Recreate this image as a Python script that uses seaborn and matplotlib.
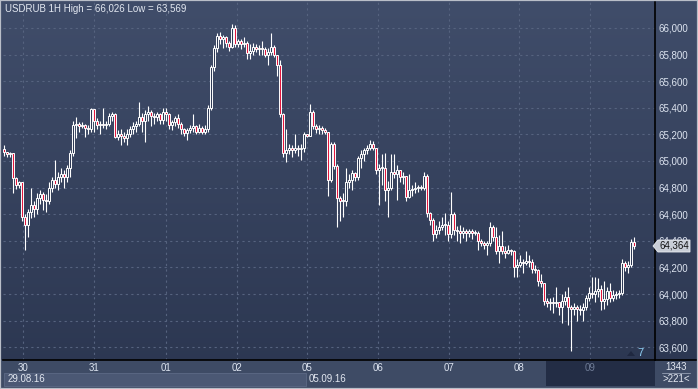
import numpy as np
import pandas as pd
import matplotlib
matplotlib.use('Agg')
import matplotlib.pyplot as plt
from matplotlib.patches import Rectangle, Polygon
from matplotlib.lines import Line2D
from matplotlib.colors import LinearSegmentedColormap
import seaborn as sns

# hourly candles (open = previous close)
first_open = 65.09
closes = [65.07, 65.05, 65.06, 64.87, 64.82, 64.84, 64.58, 64.52, 64.62, 64.67, 64.64,
          64.72, 64.75, 64.71, 64.70, 64.80, 64.86, 64.83, 64.88, 64.90, 64.88,
          64.95, 65.06, 65.27, 65.28, 65.26, 65.27, 65.25, 65.24, 65.39, 65.30,
          65.27, 65.28, 65.27, 65.28, 65.34, 65.35, 65.18, 65.20, 65.19, 65.17,
          65.20, 65.24, 65.26, 65.28, 65.33, 65.30, 65.35, 65.37, 65.34, 65.33,
          65.35, 65.31, 65.37, 65.35, 65.27, 65.29, 65.32, 65.28, 65.24, 65.21,
          65.23, 65.25, 65.26, 65.22, 65.25, 65.22, 65.24, 65.40, 65.71, 65.85,
          65.94, 65.92, 65.93, 65.89, 65.86, 66.00, 65.88, 65.90, 65.88, 65.89,
          65.81, 65.83, 65.86, 65.84, 65.85, 65.84, 65.80, 65.82, 65.86, 65.80,
          65.72, 65.35, 65.06, 65.08, 65.10, 65.08, 65.10, 65.09, 65.10, 65.20,
          65.19, 65.37, 65.26, 65.24, 65.25, 65.23, 65.22, 64.86, 65.13, 64.96,
          64.72, 64.70, 64.70, 64.84, 64.86, 64.91, 64.88, 65.02, 65.05, 65.08,
          65.10, 65.13, 65.10, 64.93, 64.95, 64.95, 64.78, 64.80, 64.92, 64.90,
          64.93, 64.88, 64.89, 64.73, 64.78, 64.79, 64.80, 64.80, 64.80, 64.89,
          64.61, 64.56, 64.45, 64.48, 64.50, 64.52, 64.52, 64.45, 64.60, 64.48,
          64.47, 64.46, 64.47, 64.46, 64.47, 64.46, 64.46, 64.40, 64.38, 64.37,
          64.38, 64.50, 64.43, 64.32, 64.36, 64.32, 64.31, 64.33, 64.32, 64.20,
          64.22, 64.24, 64.23, 64.25, 64.24, 64.19, 64.18, 64.10, 64.08, 63.95,
          63.93, 63.94, 63.93, 63.94, 63.90, 63.95, 63.98, 63.90, 63.89, 63.90,
          63.89, 63.88, 63.90, 63.97, 64.01, 64.00, 64.02, 64.04, 63.95, 63.96,
          64.02, 63.97, 63.99, 64.00, 64.01, 64.23, 64.20, 64.22, 64.39, 64.364]
highs = [65.12, 65.07, 65.07, 65.06, 64.88, 64.85, 64.84, 64.60, 64.64, 64.80, 64.70,
         64.76, 64.78, 64.77, 64.75, 64.84, 64.88, 65.01, 64.92, 64.95, 64.93,
         64.97, 65.08, 65.30, 65.33, 65.29, 65.29, 65.28, 65.27, 65.40, 65.39,
         65.32, 65.30, 65.40, 65.30, 65.36, 65.37, 65.36, 65.23, 65.24, 65.22,
         65.24, 65.26, 65.29, 65.30, 65.44, 65.36, 65.38, 65.41, 65.38, 65.36,
         65.37, 65.36, 65.40, 65.40, 65.36, 65.31, 65.34, 65.35, 65.29, 65.25,
         65.25, 65.27, 65.35, 65.27, 65.28, 65.26, 65.27, 65.42, 65.72, 65.87,
         65.96, 65.97, 65.95, 65.94, 65.90, 66.026, 66.02, 65.92, 65.92, 65.93,
         65.90, 65.88, 65.89, 65.88, 65.87, 65.90, 65.86, 65.85, 65.96, 65.87,
         65.80, 65.76, 65.36, 65.24, 65.13, 65.12, 65.20, 65.12, 65.13, 65.22,
         65.20, 65.43, 65.38, 65.28, 65.27, 65.26, 65.25, 65.22, 65.14, 65.14,
         64.98, 64.74, 64.76, 64.95, 64.90, 64.93, 64.92, 65.04, 65.08, 65.10,
         65.12, 65.16, 65.15, 65.10, 64.98, 65.05, 65.06, 64.85, 65.05, 65.05,
         64.97, 64.93, 64.92, 64.89, 64.90, 64.82, 64.84, 64.82, 64.82, 64.92,
         64.90, 64.62, 64.57, 64.52, 64.55, 64.58, 64.61, 64.55, 64.77, 64.62,
         64.51, 64.52, 64.50, 64.49, 64.49, 64.49, 64.48, 64.47, 64.41, 64.40,
         64.40, 64.54, 64.52, 64.50, 64.44, 64.47, 64.36, 64.37, 64.34, 64.33,
         64.26, 64.29, 64.26, 64.32, 64.29, 64.26, 64.22, 64.19, 64.15, 64.08,
         63.97, 63.97, 63.98, 64.05, 63.93, 64.00, 64.02, 64.05, 63.92, 63.93,
         63.92, 63.92, 63.93, 63.99, 64.05, 64.13, 64.13, 64.12, 64.07, 64.10,
         64.05, 64.08, 64.03, 64.02, 64.03, 64.26, 64.25, 64.25, 64.41, 64.43]
lows = [65.04, 65.03, 65.03, 64.76, 64.79, 64.80, 64.55, 64.33, 64.43, 64.57, 64.58,
        64.60, 64.68, 64.63, 64.62, 64.68, 64.77, 64.80, 64.78, 64.84, 64.80,
        64.84, 64.88, 65.04, 65.17, 65.22, 65.25, 65.18, 65.20, 65.22, 65.22,
        65.24, 65.20, 65.25, 65.24, 65.26, 65.30, 65.17, 65.16, 65.12, 65.14,
        65.12, 65.18, 65.20, 65.22, 65.26, 65.22, 65.14, 65.30, 65.26, 65.28,
        65.30, 65.28, 65.28, 65.30, 65.24, 65.23, 65.26, 65.25, 65.20, 65.19,
        65.16, 65.21, 65.22, 65.20, 65.21, 65.20, 65.20, 65.22, 65.38, 65.68,
        65.82, 65.88, 65.85, 65.86, 65.83, 65.85, 65.86, 65.86, 65.84, 65.86,
        65.77, 65.77, 65.80, 65.82, 65.80, 65.80, 65.78, 65.72, 65.80, 65.78,
        65.64, 65.33, 65.03, 64.99, 65.05, 65.03, 65.06, 65.04, 65.01, 65.07,
        65.18, 65.19, 65.24, 65.21, 65.20, 65.20, 65.20, 64.74, 64.84, 64.94,
        64.50, 64.55, 64.58, 64.66, 64.80, 64.78, 64.85, 64.86, 64.95, 65.00,
        65.05, 65.08, 65.08, 64.90, 64.67, 64.82, 64.70, 64.58, 64.78, 64.87,
        64.71, 64.84, 64.83, 64.70, 64.72, 64.74, 64.76, 64.77, 64.78, 64.78,
        64.58, 64.52, 64.40, 64.42, 64.45, 64.48, 64.44, 64.40, 64.42, 64.44,
        64.40, 64.38, 64.42, 64.40, 64.43, 64.41, 64.44, 64.33, 64.36, 64.34,
        64.29, 64.36, 64.40, 64.30, 64.23, 64.30, 64.27, 64.30, 64.29, 64.13,
        64.13, 64.20, 64.16, 64.22, 64.20, 64.16, 64.16, 64.06, 64.05, 63.92,
        63.90, 63.88, 63.86, 63.90, 63.84, 63.78, 63.92, 63.77, 63.569, 63.84,
        63.80, 63.84, 63.80, 63.88, 63.95, 63.97, 63.94, 63.98, 63.88, 63.89,
        63.92, 63.94, 63.95, 63.96, 63.97, 63.99, 64.17, 64.16, 64.20, 64.34]

day_pos = [6.3, 30, 54, 77.7, 101, 124.7, 148.3, 171.7, 195.3]
day_labels = ['30', '31', '01', '02', '05', '06', '07', '08', '09']
price_ticks = [63.6, 63.8, 64.0, 64.2, 64.4, 64.6, 64.8, 65.0, 65.2, 65.4, 65.6, 65.8, 66.0]
title = 'USDRUB 1H High = 66,026 Low = 63,569'
last_price = 64.364

df = pd.DataFrame({'close': closes, 'high': highs, 'low': lows})
df['open'] = df['close'].shift(1).fillna(first_open)
df['bar'] = np.arange(len(df))
df['high'] = df[['high', 'open', 'close']].max(axis=1)
df['low'] = df[['low', 'open', 'close']].min(axis=1)

sns.set_style('dark')
plt.rcParams['font.family'] = ['Liberation Sans', 'DejaVu Sans']

W, H = 698, 389
fig = plt.figure(figsize=(W / 100, H / 100), dpi=100)
fig.patch.set_facecolor('#35425d')


def fx(x):
    return x / W


def fy(y):
    return 1 - y / H


def rect(x0, y0, x1, y1, fc, ec='none', lw=0, z=1):
    fig.add_artist(Rectangle((fx(x0), fy(y1)), (x1 - x0) / W, (y1 - y0) / H,
                             transform=fig.transFigure, fc=fc, ec=ec, lw=lw, zorder=z))


def txt(x, y, s, **kw):
    fig.text(fx(x), fy(y), s, **kw)


# background gradient
bg = fig.add_axes([0, 0, 1, 1], zorder=-5)
cmap = LinearSegmentedColormap.from_list('bg', ['#404d6a', '#2b3650'])
bg.imshow(np.linspace(0, 1, 256).reshape(-1, 1), aspect='auto', cmap=cmap,
          extent=[0, 1, 0, 1])
bg.axis('off')

# bottom time strip
rect(0, 360, W, H, '#3e4b65', z=0)
rect(4, 373, 306, 386, '#4b5874', ec='#5d6a86', lw=0.6, z=0)
rect(546, 361, 655, 386, '#232d45', z=0)

ax = fig.add_axes([fx(3), fy(360), fx(652), 358 / H], zorder=2)
ax.set_facecolor('none')

# candles
up = df['close'] >= df['open']
ax.vlines(df['bar'], df['low'], df['high'], color='white', lw=0.8, zorder=2)
ax.bar(df['bar'], np.maximum((df['close'] - df['open']).abs(), 0.004),
       bottom=df[['open', 'close']].min(axis=1), width=0.72,
       color=np.where(up, '#2f3a56', '#e3173e'), edgecolor='white',
       linewidth=0.7, zorder=3)

ax.set_xlim(-0.33, 217)
ax.set_ylim(63.504, 66.195)
ax.set_yticks(price_ticks)
ax.set_yticklabels([f'{v:.3f}'.replace('.', ',') for v in price_ticks])
ax.yaxis.tick_right()
ax.set_xticks(day_pos)
ax.set_xticklabels(day_labels)
ax.grid(True, color='#56637f', ls=(0, (2, 3)), lw=0.8)
ax.tick_params(length=0, labelsize=7, colors='#dde4f0')
ax.tick_params(axis='y', pad=2.5)
ax.tick_params(axis='x', pad=2.5)
ax.get_xticklabels()[-1].set_color('#6f7c96')
for s in ['top', 'left']:
    ax.spines[s].set_visible(False)
ax.spines['right'].set_color('black')
ax.spines['bottom'].set_color('black')
ax.spines['right'].set_linewidth(1.2)
ax.spines['bottom'].set_linewidth(1.2)

fig.add_artist(Line2D([fx(655), 1], [fy(360), fy(360)], color='black', lw=1.2,
                      transform=fig.transFigure, zorder=3))

# title
txt(5, 9, title, color='#e3e8f1', fontsize=7, va='center', ha='left')

# current price marker (covers the 64,400 label as in the original)
fig.add_artist(Polygon([(fx(653), fy(246)), (fx(658), fy(240)), (fx(690), fy(240)),
                        (fx(690), fy(252)), (fx(658), fy(252))],
                       closed=True, transform=fig.transFigure, fc='#c9ced7',
                       ec='#e9ecf1', lw=0.6, zorder=5))
txt(660, 246, f'{last_price:.3f}'.replace('.', ','), color='#111111', fontsize=7,
    va='center', ha='left', zorder=6)

# bottom-right counters
txt(676, 367, '1343', color='#e3e8f1', fontsize=7, va='center', ha='center')
fig.add_artist(Line2D([fx(662), fx(690)], [fy(373), fy(373)], color='#8a95aa', lw=0.7,
                      transform=fig.transFigure))
txt(676, 379, '>221<', color='#e3e8f1', fontsize=7, va='center', ha='center')

# dates
txt(8, 379, '29.08.16', color='#e3e8f1', fontsize=7, va='center', ha='left')
txt(309, 379, '05.09.16', color='#e3e8f1', fontsize=7, va='center', ha='left')

# scroll marker
fig.add_artist(Polygon([(fx(627), fy(356)), (fx(631), fy(351)), (fx(635), fy(356))],
                       closed=True, transform=fig.transFigure, fc='#1f2840',
                       ec='none', zorder=5))
txt(640, 353, '7', color='#8fd0f5', fontsize=8, va='center', ha='center', zorder=6)

# outer frame
fig.add_artist(Rectangle((0, 0), 1, 1, transform=fig.transFigure, fc='none',
                         ec='#b9bec8', lw=1.6, zorder=10))

fig.savefig('out.png', dpi=100, facecolor=fig.get_facecolor())
